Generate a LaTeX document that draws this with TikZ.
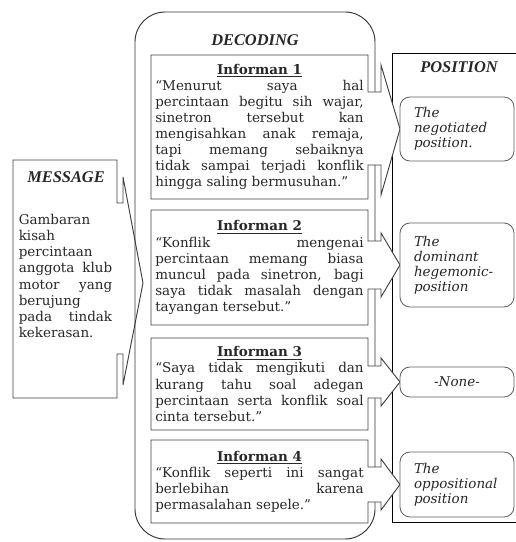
\documentclass[tikz,border=0pt]{standalone}
\usepackage{fontspec}
\setmainfont{DejaVu Serif}
\newfontfamily\judulfont{Liberation Serif}
\usepackage{tikz}
\usetikzlibrary{backgrounds}
\setlength{\parindent}{0pt}
\sloppy
\definecolor{G}{RGB}{95, 95, 95}
\definecolor{K}{RGB}{40, 40, 40}

\tikzset{
  teks/.style={font=\fontsize{11.5}{13.7}\selectfont, text=K},
  judul/.style={font=\judulfont\fontsize{14}{16}\selectfont\bfseries\itshape, text=K},
  kotak/.style={teks, inner sep=0pt, outer sep=0pt, text width=6.25cm, align=justify, minimum width=6.51cm},
  posisi/.style={draw=G, fill=white, rounded corners=0.3cm, line width=0.7pt,
    font=\fontsize{11.5}{12.8}\selectfont\itshape, text=K, minimum width=3.42cm,
    text width=2.58cm, inner xsep=0.42cm, inner ysep=0pt, outer sep=0pt, align=left},
  panah/.style={draw=black!75, fill=white, line width=0.8pt},
}

\begin{document}
\begin{tikzpicture}[x=0.03cm, y=-0.03cm]
   	\useasboundingbox (0,0) rectangle (516,542);

	% Judul kolom
   	\node[judul] (jmsg) at (66,177) {MESSAGE};
   	\node[judul] (jdec) at (255,40) {DECODING};
   	\node[judul] (jpos) at (459,67) {POSITION};

	% Kotak message
   	\node[inner sep=0pt, outer sep=0pt, minimum width=3.12cm, minimum height=7.14cm] (msg) at (65,279) {};
   	\node[teks, inner sep=0pt, text width=2.8cm, align=justify] (msgtxt) at (65.5,276) {Gambaran\newline kisah\newline percintaan\newline anggota klub\linebreak motor yang\linebreak berujung\newline pada tindak\linebreak kekerasan.};
   	\coordinate (msgtip) at (143,283);

	% Kotak informan
   	\node[kotak, minimum height=4.32cm] (inf1) at (259.5,127) {{\centering\textbf{\underline{Informan 1}}\par}“Menurut saya hal\linebreak percintaan begitu sih wajar,\linebreak sinetron tersebut kan\linebreak mengisahkan anak remaja,\linebreak tapi memang sebaiknya\linebreak tidak sampai terjadi konflik\linebreak hingga saling bermusuhan.”};
   	\node[kotak, minimum height=3.45cm] (inf2) at (259.5,267.5) {{\centering\textbf{\underline{Informan 2}}\par}“Konflik mengenai\linebreak percintaan memang biasa\linebreak muncul pada sinetron, bagi\linebreak saya tidak masalah dengan\linebreak tayangan tersebut.”};
   	\node[kotak, minimum height=2.76cm] (inf3) at (259.5,384) {{\centering\textbf{\underline{Informan 3}}\par}“Saya tidak mengikuti dan\linebreak kurang tahu soal adegan\linebreak percintaan serta konflik soal\linebreak cinta tersebut.”};
   	\node[kotak, minimum height=2.49cm] (inf4) at (259.5,481.5) {{\centering\textbf{\underline{Informan 4}}\par}“Konflik seperti ini sangat\linebreak berlebihan karena\linebreak permasalahan sepele.”};

	% Kotak posisi
   	\node[posisi, minimum height=1.92cm] (pos1) at (457,129) {The\newline negotiated\newline position.};
   	\node[posisi, minimum height=2.52cm] (pos2) at (457,265) {The\newline dominant\newline hegemonic-\newline position};
   	\node[posisi, minimum height=0.9cm, align=center] (pos3) at (457,382) {-None-};
   	\node[posisi, minimum height=1.95cm] (pos4) at (457,484.5) {The\newline oppositional\newline position};

	% Garis dan panah di belakang teks
   	\begin{scope}[on background layer]
   		% kolom position (terbuka di kanan)
   		\draw[line width=0.8pt] (516,53) -- (392,53) -- (392,522) -- (516,522);

   		% panah message
   		\path[panah] (msg.north west) -- (msg.north east) -- (msg.east |- 0,203) -- (123,203) -- (123,177)
   			-- (msgtip) -- (123,385) -- (123,354) -- (msg.east |- 0,354) -- (msg.south east) -- (msg.south west) -- cycle;

   		% kotak decoding
   		\draw[line width=0.8pt, draw=black!80, rounded corners=0.9cm] (135,12) rectangle (375,539);

   		% panah informan 1
   		\path[panah] (inf1.north west) -- (inf1.north east) -- (inf1.east |- 0,92) -- (381,92) -- (381,65)
   			-- (pos1.west) -- (381,195) -- (381,165) -- (inf1.east |- 0,165) -- (inf1.south east) -- (inf1.south west) -- cycle;
   		% panah informan 2
   		\path[panah] (inf2.north west) -- (inf2.north east) -- (inf2.east |- 0,241) -- (381,241) -- (381,233)
   			-- (pos2.west) -- (381,297) -- (381,289) -- (inf2.east |- 0,289) -- (inf2.south east) -- (inf2.south west) -- cycle;
   		% panah informan 3
   		\path[panah] (inf3.north west) -- (inf3.north east) -- (inf3.east |- 0,366) -- (381,366) -- (381,358)
   			-- (pos3.west) -- (381,406) -- (381,398) -- (inf3.east |- 0,398) -- (inf3.south east) -- (inf3.south west) -- cycle;
   		% panah informan 4
   		\path[panah] (inf4.north west) -- (inf4.north east) -- (inf4.east |- 0,467) -- (381,467) -- (381,459)
   			-- (pos4.west) -- (381,510) -- (381,502) -- (inf4.east |- 0,502) -- (inf4.south east) -- (inf4.south west) -- cycle;
   	\end{scope}
\end{tikzpicture}
\end{document}
